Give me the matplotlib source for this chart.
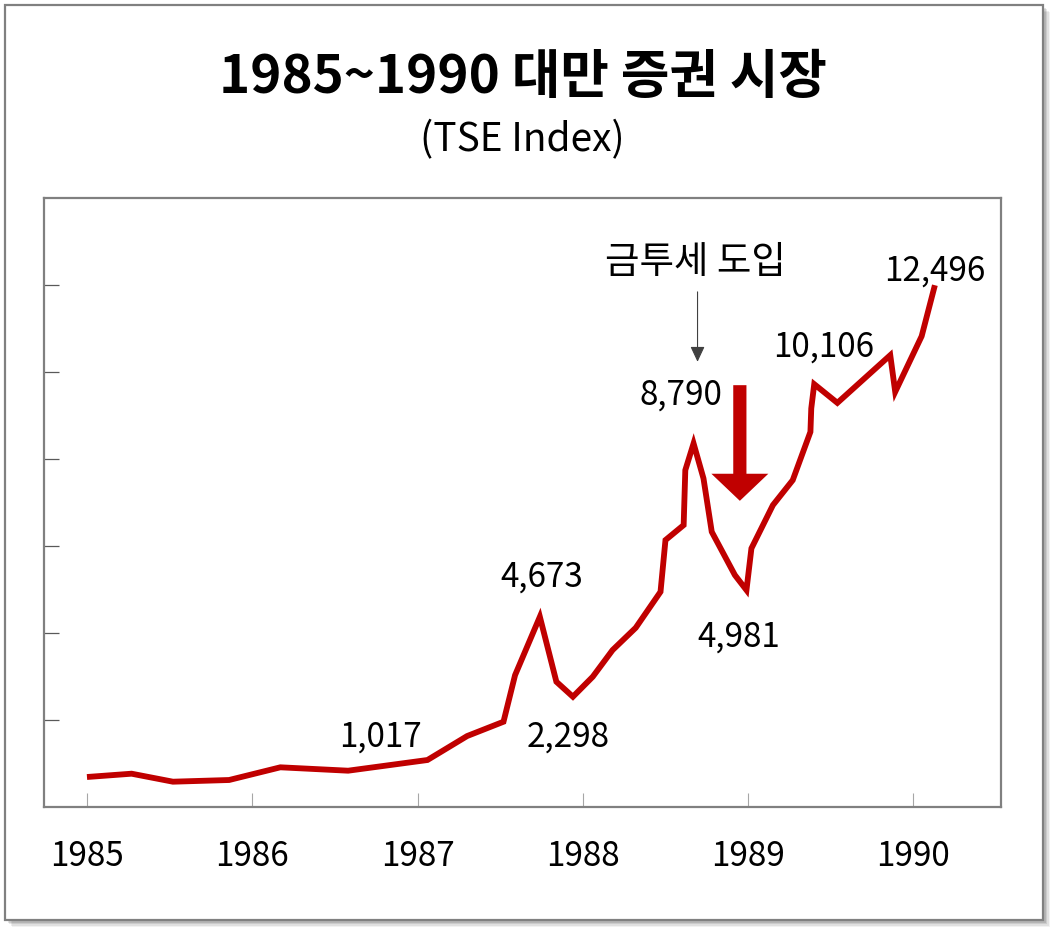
import matplotlib
matplotlib.use("Agg")
import matplotlib.pyplot as plt
from matplotlib.patches import Rectangle

plt.rcParams['font.family'] = ['Noto Sans CJK KR', 'DejaVu Sans']

# ---- data (decimal year, TSE index) ----
years = [1985.00, 1985.27, 1985.52, 1985.86, 1986.17, 1986.58, 1987.06, 1987.30,
         1987.52, 1987.59, 1987.74, 1987.84, 1987.94, 1988.06, 1988.18, 1988.32,
         1988.47, 1988.50, 1988.61, 1988.62, 1988.67, 1988.73, 1988.78, 1988.92,
         1988.99, 1989.02, 1989.15, 1989.27, 1989.377, 1989.382, 1989.40, 1989.54,
         1989.86, 1989.89, 1990.05, 1990.13]
index_values = [683, 759, 575, 614, 906, 828, 1074, 1625,
                1954, 3026, 4368, 2874, 2529, 2989, 3603, 4115,
                4943, 6132, 6477, 7741, 8355, 7550, 6322, 5327,
                4982, 5941, 6936, 7511, 8621, 9159, 9718, 9288,
                10385, 9541, 10822, 11994]

year_ticks = [1985, 1986, 1987, 1988, 1989, 1990]
year_labels = ["1985", "1986", "1987", "1988", "1989", "1990"]
y_ticks = [2000, 4000, 6000, 8000, 10000, 12000]

label_texts = ["1,017", "4,673", "2,298", "8,790", "4,981", "10,106", "12,496"]
label_x = [1986.774, 1987.754, 1987.912, 1988.596, 1988.941, 1989.455, 1990.130]
label_y = [1372, 5058, 1372, 9254, 3678, 10364, 12110]

title = "1985~1990 대만 증권 시장"
subtitle = "(TSE Index)"
event_text = "금투세 도입"

W, H = 1057, 934
fig = plt.figure(figsize=(W / 100, H / 100), dpi=100)
fig.patch.set_facecolor("white")

# outer frame with soft shadow
for i, a in enumerate([0.05, 0.07, 0.09, 0.11]):
    off = 7 - i * 1.5
    fig.patches.append(Rectangle(((5 + off) / W, (934 - 920 - off) / H), 1038 / W, 915 / H,
                                 transform=fig.transFigure, facecolor=(0, 0, 0, a),
                                 edgecolor="none", zorder=0))
fig.patches.append(Rectangle((5 / W, (934 - 920) / H), 1038 / W, 915 / H,
                             transform=fig.transFigure, facecolor="white",
                             edgecolor="#808080", linewidth=1.6, zorder=1))

ax = fig.add_axes([44 / W, (934 - 806.7) / H, (1001 - 44) / W, (806.7 - 198) / H])
ax.set_zorder(2)
ax.set_facecolor("white")

ax.plot(years, index_values, color="#C00000", linewidth=4.2,
        solid_joinstyle="miter", solid_capstyle="butt", zorder=3)

ax.set_xlim(1984.74, 1990.53)
ax.set_ylim(0, 14000)
ax.set_xticks(year_ticks)
ax.set_xticklabels(year_labels)
ax.set_yticks(y_ticks)
ax.set_yticklabels([])
for s in ax.spines.values():
    s.set_color("#808080")
    s.set_linewidth(1.6)
ax.tick_params(axis="x", direction="in", length=10, width=0.8, color="#a6a6a6",
               labelsize=24, pad=23, labelcolor="black")
ax.tick_params(axis="y", direction="in", length=11, width=0.9, color="#595959")

for t, x, y in zip(label_texts, label_x, label_y):
    ax.text(x, y, t, fontsize=24, ha="center", va="baseline", color="black", zorder=4)

ax.text(1988.680, 12523, event_text, fontsize=27, ha="center", va="center", color="black")
ax.annotate("", xy=(1988.694, 10232), xytext=(1988.694, 11841),
            arrowprops=dict(arrowstyle="-|>,head_length=0.47,head_width=0.22",
                            mutation_scale=20, color="#404040", lw=0.8,
                            shrinkA=0, shrinkB=0))
ax.annotate("", xy=(1988.950, 7035), xytext=(1988.950, 9695),
            arrowprops=dict(arrowstyle="simple,head_length=19.5,head_width=41,tail_width=9.5",
                            mutation_scale=1, facecolor="#C00000", edgecolor="none",
                            lw=0, shrinkA=0, shrinkB=0))

fig.text(523 / W, 1 - 93.3 / H, title, fontsize=38, fontweight="bold",
         ha="center", va="baseline", color="black")
fig.text(522 / W, 1 - 151.7 / H, subtitle, fontsize=28,
         ha="center", va="baseline", color="black")

fig.savefig("out.png", dpi=100)
